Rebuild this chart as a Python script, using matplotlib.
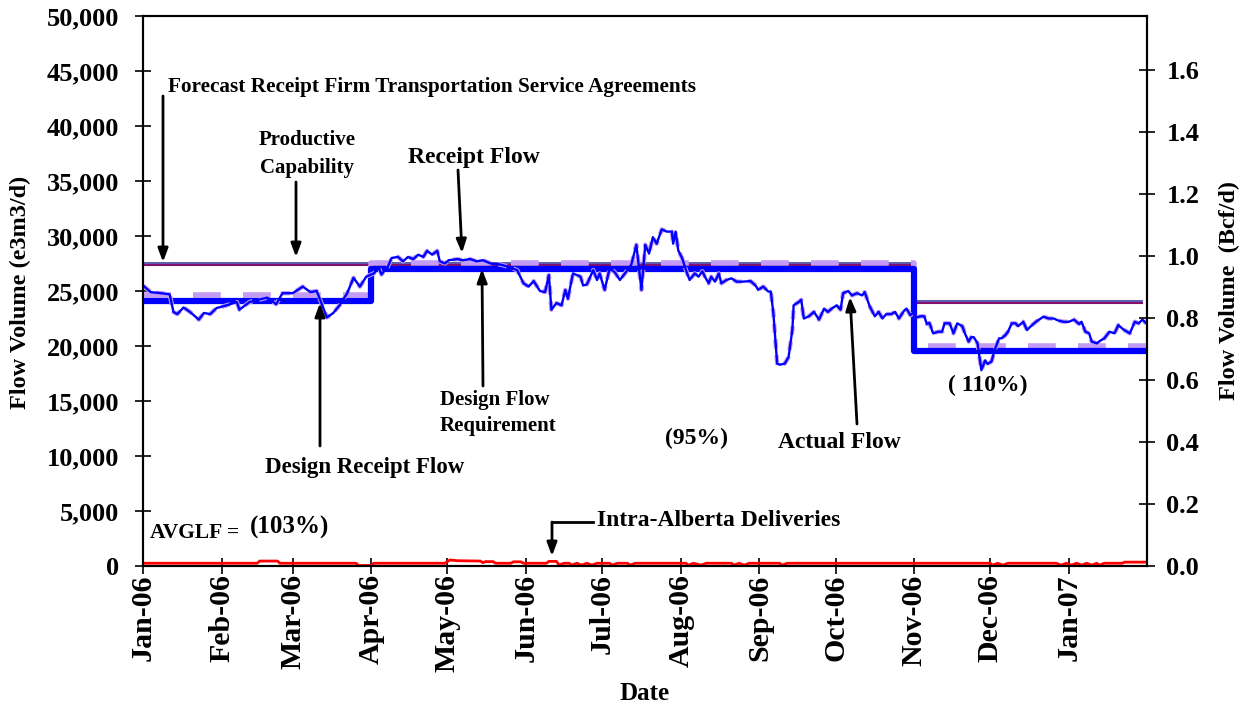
import numpy as np
import pandas as pd
import matplotlib
matplotlib.use("Agg")
import matplotlib.pyplot as plt
import matplotlib.dates as mdates
from matplotlib.ticker import FuncFormatter

plt.rcParams['font.family'] = ['Liberation Serif', 'DejaVu Serif']
plt.rcParams['font.weight'] = 'bold'

# ---------------- data ----------------
start_date = "2006-01-01"
end_day = 395.8

# Actual flow (day offset from Jan 1 2006, e3m3/d)
actual_days = [0, 3, 7, 10.5, 12, 13.5, 16, 18.5, 22, 24, 26.5, 29, 33, 37, 38, 42, 49, 52.5, 55, 59,
               63, 66, 68.5, 71, 72.5, 75, 77.5, 80.5, 83, 85.5, 88, 91, 93, 94, 96.5, 98, 100.5, 102.5,
               104.5, 106.5, 108.5, 110.5, 112, 114, 116, 117, 119, 120.5, 124, 126, 129, 131.5, 134, 137,
               141, 144, 147.5, 150, 152, 154, 156.5, 158.5, 160, 161, 163, 165, 166.5, 167.5, 169.5, 172.5,
               173.5, 175, 177.5, 179, 180, 182, 184, 186, 188, 190, 192.5, 194.5, 196.5, 198, 199.5, 201,
               202.5, 204.5, 206.5, 208.5, 209, 210, 211, 212.5, 214.5, 215.5, 217.5, 219, 220.5, 221.5, 223,
               224, 225.5, 227, 228, 230, 232, 234, 236.5, 239.5, 241.5, 242.5, 244.5, 246.5, 247.5, 248.5,
               250, 251, 253, 254.5, 256, 256.5, 258.5, 259.5, 260.5, 262.5, 264.5, 266.5, 268.5, 270, 271.5,
               273.5, 275, 276, 278, 279.5, 281.5, 283.5, 284.5, 286.5, 288.5, 290, 291.5, 293, 295, 296.5,
               298, 300, 301, 302.5, 303.5, 305, 306.5, 308, 309, 310, 311.5, 313.5, 315, 316, 318, 319.5,
               321, 323, 324, 325.5, 326.5, 327.5, 329, 330.5, 332, 333, 334.5, 336, 337.5, 338.5, 340, 341,
               342.5, 344, 345, 347, 348.5, 350, 352, 355, 357, 359, 361, 363, 365, 367, 369, 370, 371.5,
               373, 374, 376, 377.5, 379, 381, 383, 384.5, 386.5, 389, 391, 392.5, 394, 395.5]
actual_flow = [25500, 24900, 24800, 24700, 23100, 22900, 23500, 23100, 22400, 23000, 22900, 23450, 23700,
               24000, 23300, 24000, 24400, 23800, 24800, 24800, 25400, 24900, 25000, 23500, 22600, 23000,
               23700, 24800, 26200, 25400, 26300, 26600, 27100, 26500, 27200, 28000, 28100, 27700, 28100,
               27900, 28300, 28100, 28650, 28300, 28650, 27700, 27500, 27800, 27900, 27800, 27900, 27700,
               27800, 27500, 27400, 27200, 26900, 25700, 25400, 25900, 25000, 24900, 26450, 23300, 23900,
               23700, 25100, 24300, 26600, 26300, 25500, 25600, 26900, 26000, 26600, 25100, 27100, 26700,
               26000, 26600, 27400, 29200, 25100, 29200, 28400, 29900, 29300, 30600, 30400, 30400, 29300,
               30400, 28700, 28000, 26600, 26000, 26600, 26300, 26800, 26300, 25700, 26300, 25850, 26600,
               25700, 26000, 26150, 25850, 25850, 25900, 25500, 25100, 25400, 24950, 24950, 23000, 18400,
               18300, 18400, 19000, 21500, 23700, 24000, 24200, 22500, 22700, 23100, 22400, 23400, 23100,
               23400, 23700, 23300, 24800, 25000, 24600, 24800, 24600, 24900, 23600, 22700, 23100, 22500,
               22900, 22900, 23100, 22500, 23200, 23400, 22800, 23000, 22600, 22700, 22700, 22000, 22100,
               21150, 21300, 21300, 22060, 22060, 21150, 22060, 21800, 21150, 20400, 20800, 20800, 20240,
               17800, 18700, 18350, 18600, 19800, 20700, 20700, 21000, 21300, 22060, 22060, 21800, 22200,
               21450, 21800, 22200, 22670, 22500, 22500, 22300, 22200, 22200, 22400, 22000, 22200, 21300,
               21150, 20400, 20240, 20500, 20700, 21300, 21150, 21900, 21500, 21150, 22200, 22060, 22400,
               22060]
receipt_flow = list(actual_flow)

# Step series: (start day, value)
design_receipt_days = [0, 90, 304, 396]
design_receipt_vals = [24100, 27000, 19550, 19550]
design_req_days = [0, 90, 304, 396]
design_req_vals = [24650, 27550, 20000, 20000]
forecast_ftsa_days = [0, 304, 394]
forecast_ftsa_vals = [27550, 24100, 24100]
productive_days = [0, 304, 394]
productive_vals = [27400, 23950, 23950]

# Intra-Alberta deliveries
intra_days = [0, 45, 46, 53, 54, 84, 85, 90, 91, 119, 121, 124, 133, 134, 135, 138, 139, 145, 146, 149,
              150, 159, 160, 163, 164, 166, 168, 169, 171, 173, 175, 177, 179, 184, 185, 187, 191, 192, 194,
              214, 215, 217, 220, 222, 232, 233, 235, 237, 239, 251, 252, 254, 334, 335, 337, 339, 341, 360,
              362, 364, 366, 368, 370, 372, 374, 376, 377, 379, 386, 387, 396]
intra_vals = [250, 250, 450, 450, 250, 250, 50, 50, 250, 250, 550, 480, 450, 300, 400, 400, 250, 250, 380,
              380, 250, 250, 420, 420, 100, 250, 250, 80, 250, 80, 250, 80, 250, 250, 80, 250, 250, 80, 250,
              250, 80, 250, 80, 250, 250, 80, 250, 80, 250, 250, 80, 250, 250, 80, 250, 80, 250, 250,
              80, 250, 80, 250, 80, 250, 80, 250, 80, 250, 250, 350, 350]

BCF_PER_E3M3 = 35.49e-6
left_ticks = list(range(0, 50001, 5000))
right_ticks = [0.0, 0.2, 0.4, 0.6, 0.8, 1.0, 1.2, 1.4, 1.6]

# ---------------- helpers ----------------
base = pd.Timestamp(start_date)
def to_dates(days):
    return base + pd.to_timedelta(np.asarray(days, dtype=float), unit="D")

# ---------------- figure ----------------
fig = plt.figure(figsize=(12.46, 7.08), dpi=100)
ax = fig.add_axes([143 / 1246, 1 - 566 / 708, 1004 / 1246, 550 / 708])

ax.step(to_dates(forecast_ftsa_days), forecast_ftsa_vals, where="post", color="#4E4EA8", lw=1.3, zorder=2)
ax.step(to_dates(productive_days), productive_vals, where="post", color="#85106E", lw=1.5, zorder=2)
ax.step(to_dates(design_req_days), design_req_vals, where="post", color="#C49CF4", lw=4,
        dashes=(5, 4), zorder=3)
ax.step(to_dates(design_receipt_days), design_receipt_vals, where="post", color="#0000FF", lw=4.5,
        zorder=4)
ax.plot(to_dates(actual_days), receipt_flow, color="#C49CF4", lw=3.2, dashes=(2, 1.5), zorder=5)
ax.plot(to_dates(actual_days), actual_flow, color="#0000FF", lw=1.7, zorder=6)
ax.plot(to_dates(intra_days), intra_vals, color="#FF0000", lw=2.0, zorder=7)

ax.set_xlim(base, base + pd.Timedelta(days=end_day))
ax.set_ylim(0, 50000)
ax.set_yticks(left_ticks)
ax.yaxis.set_major_formatter(FuncFormatter(lambda v, p: f"{int(v):,}"))
ax.xaxis.set_major_locator(mdates.MonthLocator())
ax.xaxis.set_major_formatter(mdates.DateFormatter("%b-%y"))

for s in ax.spines.values():
    s.set_linewidth(1.5)
    s.set_color("black")

ax.tick_params(axis="y", direction="inout", length=12, width=1.2, labelsize=19, pad=11)
ax.tick_params(axis="x", direction="inout", length=12, width=1.2, labelsize=21.5, pad=0)
for lab in ax.get_xticklabels():
    lab.set_rotation(90)
    lab.set_fontweight("bold")
for lab in ax.get_yticklabels():
    lab.set_fontweight("bold")

ax2 = ax.twinx()
ax2.set_ylim(0, 50000 * BCF_PER_E3M3)
ax2.set_yticks(right_ticks)
ax2.yaxis.set_major_formatter(FuncFormatter(lambda v, p: f"{v:.1f}"))
ax2.tick_params(axis="y", direction="inout", length=12, width=1.2, labelsize=19, pad=8)
for lab in ax2.get_yticklabels():
    lab.set_fontweight("bold")
for s in ax2.spines.values():
    s.set_linewidth(1.5)

ax.set_xlabel("Date", fontsize=18, fontweight="bold")
ax.xaxis.set_label_coords(0.5, (566 - 693) / 550)
ax.xaxis.label.set_va("center")
ax.set_ylabel("Flow Volume (e3m3/d)", fontsize=17.5, fontweight="bold")
ax.yaxis.set_label_coords((20 - 143) / 1004, (566 - 292) / 550)
ax2.set_ylabel("Flow Volume  (Bcf/d)", fontsize=17.5, fontweight="bold")
ax2.yaxis.set_label_coords((1229 - 143) / 1004, (566 - 290) / 550)
ax2.yaxis.label.set_va("center")
ax.yaxis.label.set_va("center")

# ---------------- annotations (pixel positions -> axes fraction) ----------------
def fx(x):
    return (x - 143) / 1004
def fy(y):
    return (566 - y) / 550

T = ax.transAxes
txt = dict(transform=T, fontweight="bold", color="black", zorder=10)
ax.text(fx(168), fy(87), "Forecast Receipt Firm Transportation Service Agreements", fontsize=15.3,
        ha="left", va="center", **txt)
ax.text(fx(307), fy(154), "Productive\nCapability", fontsize=15, ha="center", va="center",
        linespacing=1.55, **txt)
ax.text(fx(474), fy(158), "Receipt Flow", fontsize=17, ha="center", va="center", **txt)
ax.text(fx(440), fy(413), "Design Flow\nRequirement", fontsize=15, ha="left", va="center",
        linespacing=1.45, **txt)
ax.text(fx(365), fy(468), "Design Receipt Flow", fontsize=16.5, ha="center", va="center", **txt)
ax.text(fx(696), fy(438), "(95%)", fontsize=17, ha="center", va="center", **txt)
ax.text(fx(839), fy(443), "Actual Flow", fontsize=17, ha="center", va="center", **txt)
ax.text(fx(988), fy(385), "( 110%)", fontsize=17, ha="center", va="center", **txt)
ax.text(fx(150), fy(533), "AVGLF = ", fontsize=15.5, ha="left", va="center", **txt)
ax.text(fx(250), fy(527), "(103%)", fontsize=18, ha="left", va="center", **txt)
ax.text(fx(597), fy(521), "Intra-Alberta Deliveries", fontsize=17, ha="left", va="center", **txt)

arrow_kw = dict(arrowstyle="-|>,head_length=0.8,head_width=0.3", color="black", lw=2.0,
                shrinkA=0, shrinkB=0)
arrows = [((163, 96), (163, 262)),
          ((296, 182), (296, 257)),
          ((458, 170), (462, 253)),
          ((320, 446), (320, 303)),
          ((483, 386), (482, 269)),
          ((857, 424), (850, 297)),
          ((552, 522), (552, 556))]
for (x0, y0), (x1, y1) in arrows:
    ax.annotate("", xy=(fx(x1), fy(y1)), xytext=(fx(x0), fy(y0)), xycoords=T, textcoords=T,
                arrowprops=arrow_kw, zorder=10)
ax.plot([fx(593), fx(552)], [fy(522), fy(522)], color="black", lw=2.0, transform=T, zorder=10)

fig.savefig("out.png", dpi=100)
